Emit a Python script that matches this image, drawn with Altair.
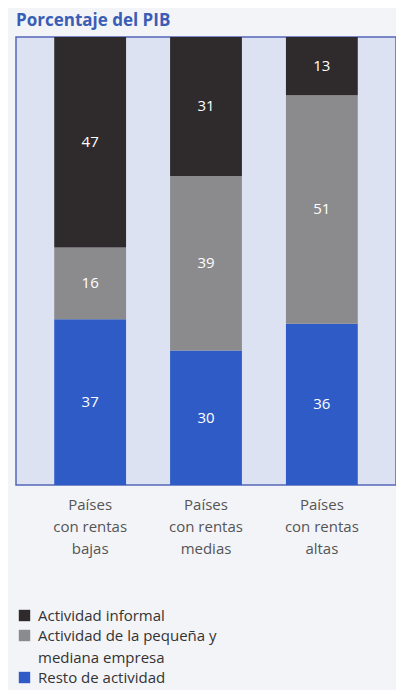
import altair as alt
import pandas as pd

categories = ["Países|con rentas|bajas", "Países|con rentas|medias", "Países|con rentas|altas"]
series = ["Actividad informal", "Actividad de la pequeña y|mediana empresa", "Resto de actividad"]
informal = [47, 31, 13]
pyme = [16, 39, 51]
resto = [37, 30, 36]
colors = ["#2f2b2c", "#8b8b8d", "#2f5bc6"]

rows = []
for i, c in enumerate(categories):
    for s, vals, order in [(series[2], resto, 0), (series[1], pyme, 1), (series[0], informal, 2)]:
        rows.append({"cat": c, "serie": s, "valor": vals[i], "orden": order})
df = pd.DataFrame(rows)

x = alt.X("cat:N", sort=categories, title=None,
          scale=alt.Scale(paddingInner=0.38, paddingOuter=0.33),
          axis=alt.Axis(labelExpr="split(datum.label, '|')", labelAngle=0, domain=False, ticks=False,
                        labelFontSize=15, labelColor="#555555", labelFont="Open Sans",
                        labelLineHeight=22, labelPadding=12, labelBaseline="top"))
y = alt.Y("valor:Q", stack="zero", scale=alt.Scale(domain=[0, 100], nice=False), axis=None)

bars = alt.Chart(df).mark_bar().encode(
    x=x, y=y,
    color=alt.Color("serie:N", sort=series, scale=alt.Scale(domain=series, range=colors),
                    legend=alt.Legend(title=None, orient="none", legendX=1, legendY=571,
                                      labelExpr="split(datum.label, '|')", labelFontSize=15,
                                      labelFont="Open Sans", labelColor="#333333", labelLimit=300,
                                      symbolType="square", symbolSize=130, symbolStrokeWidth=0,
                                      symbolOpacity=1, rowPadding=4,
                                      labelBaseline="middle", labelOffset=6)),
    order=alt.Order("orden:Q"),
)

text = alt.Chart(df).mark_text(color="white", fontSize=15, font="Open Sans").encode(
    x=alt.X("cat:N", sort=categories),
    y=alt.Y("valor:Q", stack="zero", bandPosition=0.5),
    detail="serie:N",
    text="valor:Q",
    order=alt.Order("orden:Q"),
)

chart = alt.layer(bars, text).properties(
    width=380, height=448,
    title=alt.TitleParams("Porcentaje del PIB", anchor="start", fontSize=17, fontWeight="bold",
                          color="#3a5db5", font="Open Sans", offset=7),
    autosize=alt.AutoSizeParams(type="none"),
    padding={"left": 8, "top": 29, "right": 0, "bottom": 205},
    background="#f3f4f8",
).configure(
    style={"guide-label": {"lineHeight": 22}},
    view=alt.ViewConfig(fill="#dce2f2", stroke="#5566b8", strokeWidth=1.5),
)

chart.save("out.html", embed_options={"renderer": "svg", "actions": False})
